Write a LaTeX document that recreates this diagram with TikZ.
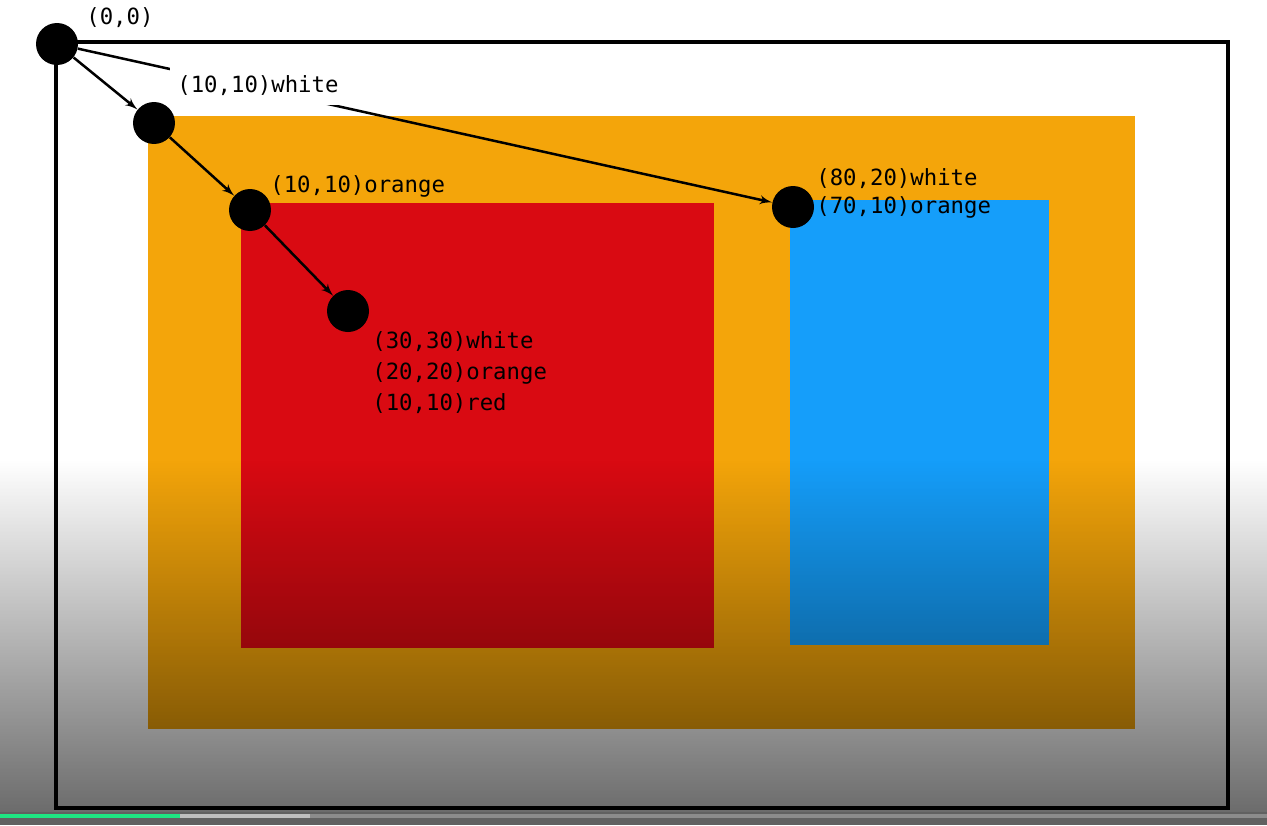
\documentclass[tikz,border=0pt]{standalone}
\usepackage{fontspec}
\setmonofont{DejaVu Sans Mono}
\usepackage{tikz}
\usetikzlibrary{arrows, fadings}

\definecolor{boxorange}{RGB}{244,165,10}
\definecolor{boxred}{RGB}{217,10,18}
\definecolor{boxblue}{RGB}{21,158,250}
\definecolor{barpast}{RGB}{30,230,130}

\begin{document}
\begin{tikzpicture}[x=0.02cm, y=-0.02cm]
        % Styles
        \tikzstyle{dot} = [circle, fill=black, inner sep=0pt, minimum size=0.84cm]
        \tikzstyle{line} = [draw, line width=0.05cm, -latex']
        \tikzstyle{lbl} = [anchor=west, inner sep=0pt, align=left, font=\ttfamily\fontsize{12.7}{17.6}\selectfont]

        \useasboundingbox (0,0) rectangle (1267,825);

        % Boxes
        \fill[white] (0,0) rectangle (1267,825);
        \fill[boxorange] (148,116) rectangle (1135,729);
        \fill[boxred] (241,203) rectangle (714,648);
        \fill[boxblue] (790,200) rectangle (1049,645);
        \draw[line width=0.09cm] (56,42) rectangle (1228,808);

        % Nodes
        \node [dot] (origin) at (57,44) {};
        \node [dot] (white) at (154,123) {};
        \node [dot] (orange) at (250,210) {};
        \node [dot] (red) at (348,311) {};
        \node [dot] (blue) at (793,207) {};

        % Paths
        \path [line] (origin) -- (white);
        \path [line] (white) -- (orange);
        \path [line] (orange) -- (red);
        \path [line] (origin) -- (blue);

        % Labels
        \node [lbl] (originlbl) at (86,18) {(0,0)};
        \node [lbl, fill=white, inner xsep=0.14cm, inner ysep=0.17cm] (whitelbl) at (170,86) {(10,10)white};
        \node [lbl] (orangelbl) at (270,186) {(10,10)orange};
        \node [lbl] (redlbl) at (372,373) {(30,30)white\\(20,20)orange\\(10,10)red};
        \node [lbl, font=\ttfamily\fontsize{12.7}{15.9}\selectfont] (bluelbl) at (816,193) {(80,20)white\\(70,10)orange};

        % Player shade and bar
        \fill[black, fill opacity=0.6, path fading=north] (0,460) rectangle (1267,825);
        \fill[black!62] (0,812) rectangle (1267,825);
        \fill[black!45] (310,814) rectangle (1267,818);
        \fill[black!25] (180,814) rectangle (310,818);
        \fill[barpast] (0,814) rectangle (180,818);
    \end{tikzpicture}
\end{document}
